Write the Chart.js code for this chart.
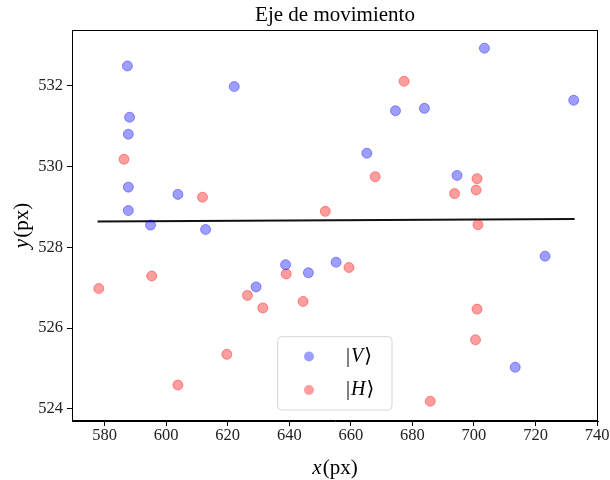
<!DOCTYPE html>
<html>
<head>
<meta charset="utf-8">
<script src="https://cdn.jsdelivr.net/npm/chart.js@4"></script>
<style>
  body { margin: 0; background: #fff; }
  #chart { display: block; }
</style>
</head>
<body>
<canvas id="chart" width="610" height="480"></canvas>
<script>
// estado |V> (azul)
var vX = [587.4, 622.1, 588.1, 587.7, 587.7, 603.8, 587.7, 703.4, 732.4, 674.5, 683.9,
          665.2, 694.5, 594.9, 612.8, 638.8, 646.2, 655.2, 629.2, 723.1, 713.4];
var vY = [532.49, 531.98, 531.22, 530.80, 529.49, 529.31, 528.91, 532.93, 531.64, 531.38, 531.44,
          530.33, 529.78, 528.55, 528.44, 527.57, 527.37, 527.63, 527.02, 527.78, 525.03];
// estado |H> (rojo)
var hX = [586.3, 611.8, 651.7, 677.3, 667.9, 701.0, 693.7, 700.7, 701.3, 578.1, 595.3,
          639.0, 626.4, 631.4, 644.5, 619.7, 603.8, 659.4, 701.0, 700.5, 685.8];
var hY = [530.18, 529.24, 528.89, 532.11, 529.75, 529.70, 529.33, 529.42, 528.56, 526.98, 527.29,
          527.34, 526.81, 526.50, 526.66, 525.35, 524.59, 527.50, 526.47, 525.71, 524.19];
// recta de ajuste
var fitX = [577.7, 732.7];
var fitY = [528.64, 528.70];

var xTicks = [580, 600, 620, 640, 660, 680, 700, 720, 740];
var yTicks = [524, 526, 528, 530, 532];

function toPoints(xs, ys) {
  return xs.map(function(x, i) { return {x: x, y: ys[i]}; });
}

var serif = '"Liberation Serif", "Times New Roman", serif';
var blue = 'rgba(0, 0, 255, 0.38)';
var red = 'rgba(255, 0, 0, 0.38)';

var decor = {
  id: 'decor',
  afterDraw: function(chart) {
    var ctx = chart.ctx;
    var a = chart.chartArea;
    ctx.save();
    // marco
    ctx.strokeStyle = '#000';
    ctx.lineWidth = 1;
    ctx.strokeRect(a.left + 0.5, a.top + 0.5, a.right - a.left - 1, a.bottom - a.top - 1);

    // titulo
    ctx.fillStyle = '#000';
    ctx.font = '21px ' + serif;
    ctx.textAlign = 'center';
    ctx.textBaseline = 'alphabetic';
    ctx.fillText('Eje de movimiento', (a.left + a.right) / 2, 21);

    // etiqueta eje x
    drawLabel(ctx, 'x', '(px)', (a.left + a.right) / 2, 468, 0);
    // etiqueta eje y
    drawLabel(ctx, 'y', '(px)', 22, (a.top + a.bottom) / 2, -Math.PI / 2);

    // leyenda
    var lx = 277.7, ly = 336.7, lw = 114.3, lh = 73.3;
    ctx.beginPath();
    ctx.roundRect(lx, ly, lw, lh, 4);
    ctx.fillStyle = 'rgba(255,255,255,0.8)';
    ctx.fill();
    ctx.strokeStyle = '#d6d6d6';
    ctx.stroke();
    var entries = [[blue, 'V', 356.5], [red, 'H', 390]];
    entries.forEach(function(e) {
      ctx.beginPath();
      ctx.arc(309, e[2], 5, 0, Math.PI * 2);
      ctx.fillStyle = e[0];
      ctx.fill();
      ctx.fillStyle = '#000';
      ctx.textAlign = 'left';
      ctx.textBaseline = 'middle';
      var x = 346;
      ctx.font = '20px ' + serif;
      ctx.fillText('|', x, e[2]);
      x += ctx.measureText('|').width + 1;
      ctx.font = 'italic 20px ' + serif;
      ctx.fillText(e[1], x, e[2]);
      x += ctx.measureText(e[1]).width + 1;
      ctx.font = '20px "DejaVu Serif", serif';
      ctx.fillText('\u27E9', x, e[2]);
    });
    ctx.restore();
  }
};

function drawLabel(ctx, it, rest, cx, cy, rot) {
  ctx.save();
  ctx.translate(cx, cy);
  ctx.rotate(rot);
  ctx.fillStyle = '#000';
  ctx.textBaseline = 'alphabetic';
  ctx.textAlign = 'left';
  ctx.font = 'italic 21px ' + serif;
  var w1 = ctx.measureText(it).width;
  ctx.font = '21px ' + serif;
  var w2 = ctx.measureText(rest).width;
  var x0 = -(w1 + w2 + 1) / 2;
  ctx.font = 'italic 21px ' + serif;
  ctx.fillText(it, x0, 6);
  ctx.font = '21px ' + serif;
  ctx.fillText(rest, x0 + w1 + 1, 6);
  ctx.restore();
}

var tickFont = { family: serif, size: 16.5 };

new Chart(document.getElementById('chart').getContext('2d'), {
  type: 'scatter',
  data: {
    datasets: [{
      label: '|V\u27E9',
      data: toPoints(vX, vY),
      backgroundColor: blue,
      borderColor: blue,
      borderWidth: 1,
      pointRadius: 5
    }, {
      label: '|H\u27E9',
      data: toPoints(hX, hY),
      backgroundColor: red,
      borderColor: red,
      borderWidth: 1,
      pointRadius: 5
    }, {
      type: 'line',
      label: 'ajuste',
      data: toPoints(fitX, fitY),
      borderColor: '#111',
      borderWidth: 2,
      pointRadius: 0,
      fill: false
    }]
  },
  options: {
    responsive: false,
    animation: false,
    layout: { padding: { top: 30, right: 12, left: 0, bottom: 0 } },
    plugins: {
      legend: { display: false },
      tooltip: { enabled: false },
      title: { display: false }
    },
    scales: {
      x: {
        type: 'linear',
        min: 569.4,
        max: 740.3,
        afterFit: function(s) { s.height = 59; },
        afterBuildTicks: function(s) { s.ticks = xTicks.map(function(v) { return {value: v}; }); },
        grid: { drawOnChartArea: false, drawTicks: true, tickLength: 5, tickColor: '#000' },
        border: { color: '#000' },
        ticks: { font: tickFont, color: '#222', padding: 0, maxRotation: 0 }
      },
      y: {
        type: 'linear',
        min: 523.70,
        max: 533.38,
        afterFit: function(s) { s.width = 72; },
        afterBuildTicks: function(s) { s.ticks = yTicks.map(function(v) { return {value: v}; }); },
        grid: { drawOnChartArea: false, drawTicks: true, tickLength: 5, tickColor: '#000' },
        border: { color: '#000' },
        ticks: { font: tickFont, color: '#222', padding: 4 }
      }
    }
  },
  plugins: [decor]
});
</script>
</body>
</html>
